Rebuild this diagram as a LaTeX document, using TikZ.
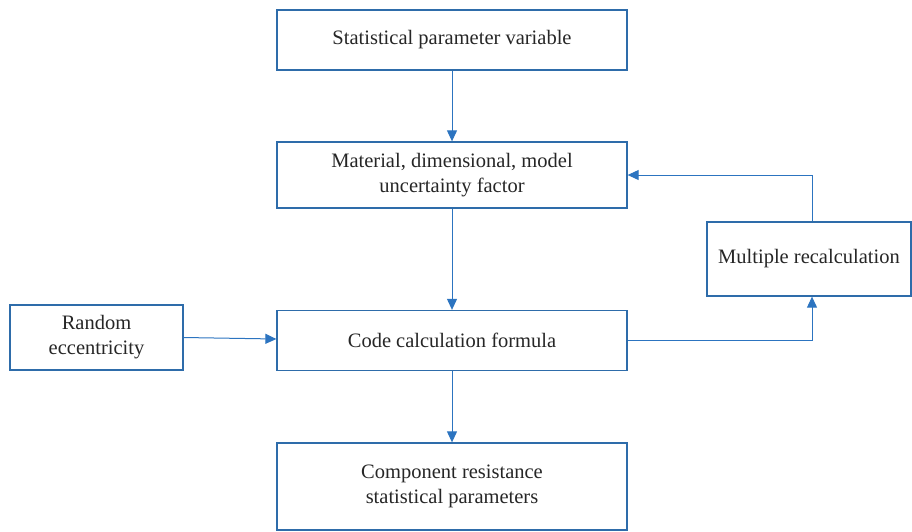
\documentclass[tikz,border=0pt]{standalone}
\usepackage{fontspec}
\setmainfont{Liberation Serif}
\usetikzlibrary{arrows.meta}
\definecolor{boxblue}{RGB}{46,108,170}
\definecolor{arrblue}{RGB}{44,116,192}
\begin{document}
\begin{tikzpicture}[x=1pt,y=-1pt,
  box/.style={draw=boxblue,line width=1.3pt,fill=white,align=center,inner sep=0pt,font=\fontsize{20.5}{25}\selectfont,text=black!85},
  conn/.style={draw=arrblue,line width=1pt,-{Triangle[length=11pt,width=10pt]}}]
\useasboundingbox (0,0) rectangle (912,531);
\node[box,minimum width=350pt,minimum height=60pt] (b1) at (452,40) {Statistical parameter variable};
\node[box,minimum width=350pt,minimum height=66pt] (b2) at (452,175) {Material, dimensional, model\\uncertainty factor};
\node[box,minimum width=350pt,minimum height=60pt] (b3) at (452,340.5) {Code calculation formula};
\node[box,minimum width=350pt,minimum height=87pt] (b4) at (452,486.5) {Component resistance\\statistical parameters};
\node[box,minimum width=173pt,minimum height=65pt] (re) at (96.5,337.5) {Random\\eccentricity};
\node[box,minimum width=204pt,minimum height=74pt] (mr) at (809,259) {Multiple recalculation};
\coordinate (c1) at (812,340.5);
\coordinate (c2) at (812,175);
\draw[conn] (b1.south) -- (b2.north);
\draw[conn] (b2.south) -- (b3.north);
\draw[conn] (b3.south) -- (b4.north);
\draw[conn] (re.east) -- ([yshift=1.5pt]b3.west);
\draw[conn] (b3.east) -- (c1) -- (c1 |- mr.south);
\draw[conn] (c2 |- mr.north) -- (c2) -- (b2.east);
\end{tikzpicture}
\end{document}
